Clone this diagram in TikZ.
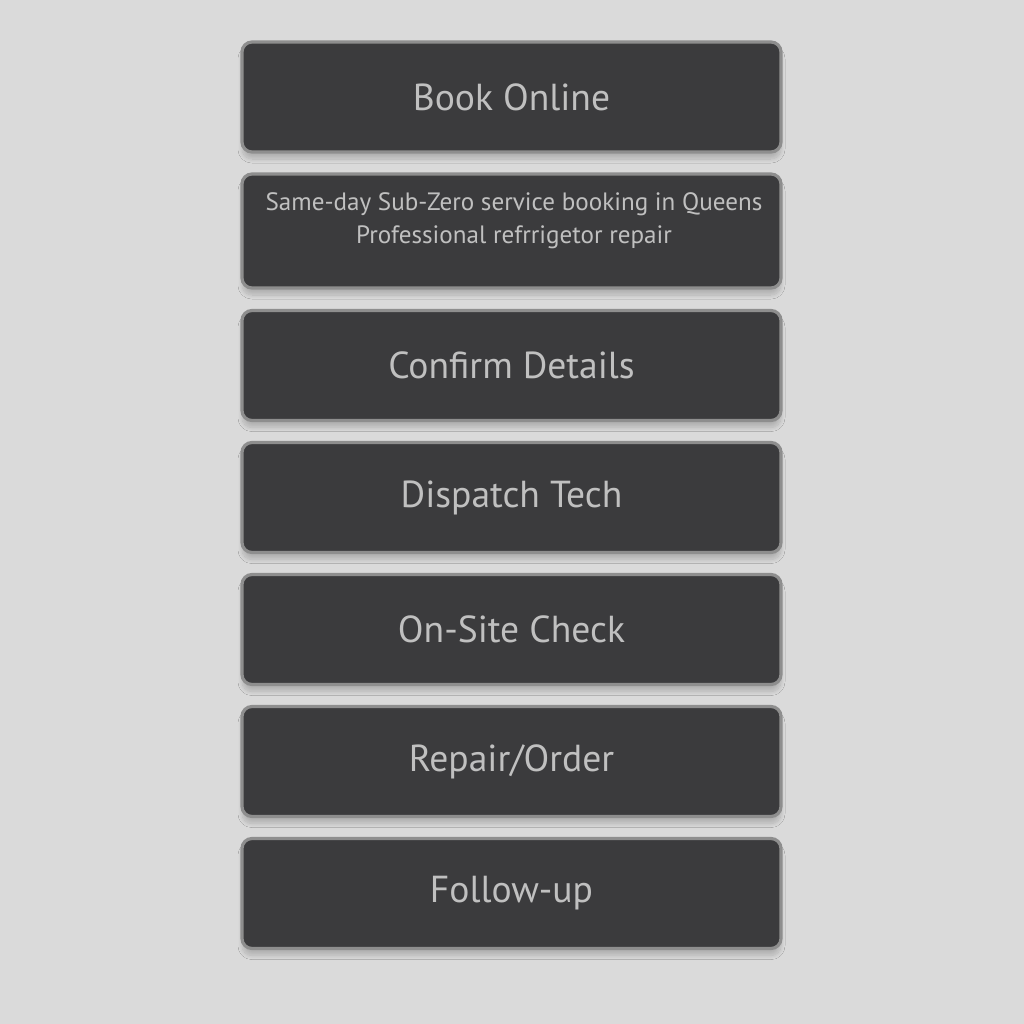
\documentclass[tikz,border=0pt]{standalone}
\usepackage{fontspec}
\setmainfont{PT Sans}
\usetikzlibrary{shadows.blur}
\definecolor{bg}{HTML}{DADADA}
\definecolor{boxfill}{HTML}{3B3B3D}
\definecolor{boxline}{HTML}{8E8E8E}
\definecolor{txt}{HTML}{C0C0C0}
\tikzset{
  stepbox/.style={draw=boxline, line width=1.6pt, fill=boxfill, rounded corners=5pt,
    minimum width=269.5pt, minimum height=55pt, inner sep=0pt, text=txt,
    font=\fontsize{18.8}{23}\selectfont,
    blur shadow={shadow xshift=0pt, shadow yshift=-3.5pt, shadow blur steps=10, shadow opacity=18}},
  smalltxt/.style={text=txt, font=\fontsize{12.55}{16.5}\selectfont, align=center, inner sep=0pt}
}
\begin{document}
\begin{tikzpicture}[x=0.5pt,y=-0.5pt]
\fill[bg] (0,0) rectangle (1024,1024);
\useasboundingbox (0,0) rectangle (1024,1024);
\node[stepbox] (b1) at (511.5,97) {Book Online};
\node[stepbox, minimum height=57pt] (b2) at (511.5,231) {};
\node[smalltxt] (t2) at (514,221) {Same-day Sub-Zero service booking in Queens\\Professional refrrigetor repair};
\node[stepbox] (b3) at (511.5,365.5) {Confirm Details};
\node[stepbox] (b4) at (511.5,497.5) {Dispatch Tech};
\node[stepbox] (b5) at (511.5,629.5) {On-Site Check};
\node[stepbox] (b6) at (511.5,761.5) {Repair/Order};
\node[stepbox] (b7) at (511.5,893.5) {Follow-up};
\end{tikzpicture}
\end{document}
